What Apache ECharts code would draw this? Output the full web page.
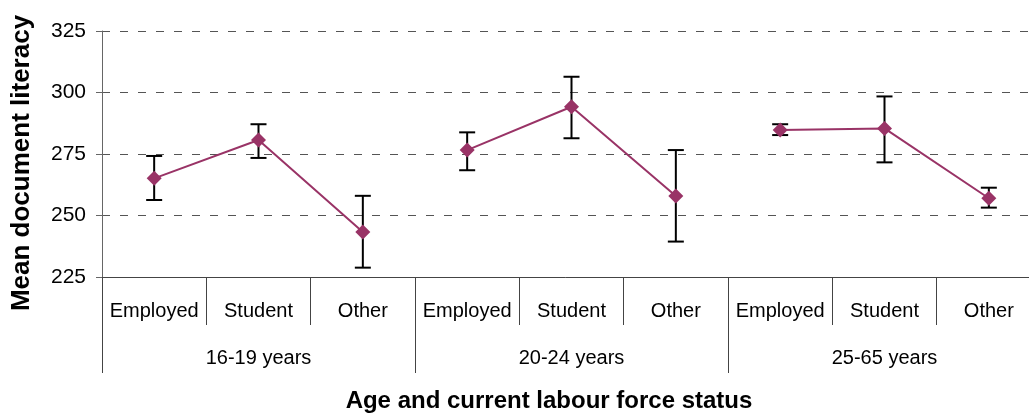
<!DOCTYPE html>
<html>
<head>
<meta charset="utf-8">
<title>Mean document literacy</title>
<script src="https://cdn.jsdelivr.net/npm/echarts@6/dist/echarts.min.js"></script>
<style>
  html, body { margin: 0; padding: 0; background: #fff; }
  #chart { width: 1029px; height: 414px; }
</style>
</head>
<body>
<div id="chart"></div>
<script>
// sub-categories (labour force status) and age groups
var statuses = ["Employed", "Student", "Other", "Employed", "Student", "Other", "Employed", "Student", "Other"];
var ageGroups = ["16-19 years", "20-24 years", "25-65 years"];
// mean scores and the ends of the error bars
var means = [265.1, 280.7, 243.3, 276.6, 294.2, 257.9, 284.8, 285.4, 257.0];
var upper = [274.2, 287.1, 258.0, 283.8, 306.4, 276.6, 287.1, 298.4, 261.3];
var lower = [256.3, 273.4, 228.8, 268.4, 281.4, 239.4, 282.7, 271.6, 253.2];
var yTicks = [225, 250, 275, 300, 325];

var fontFamily = "'Liberation Sans', Arial, sans-serif";
var plum = "#993366";

var chartDom = echarts.init(document.getElementById("chart"));

// one line per age group so the groups are not joined
var lineSeries = ageGroups.map(function (g, gi) {
  return {
    name: g,
    type: "line",
    z: 3,
    symbol: "diamond",
    symbolSize: [15, 15],
    lineStyle: { color: plum, width: 2 },
    itemStyle: { color: plum },
    data: means.map(function (v, i) {
      return Math.floor(i / 3) === gi ? v : "-";
    }),
  };
});

var errorSeries = {
  type: "custom",
  z: 2,
  data: means.map(function (v, i) {
    return [i, lower[i], upper[i]];
  }),
  renderItem: function (params, api) {
    var lo = api.coord([api.value(0), api.value(1)]);
    var hi = api.coord([api.value(0), api.value(2)]);
    var w = 8;
    var style = { stroke: "#000", lineWidth: 2 };
    return {
      type: "group",
      children: [
        { type: "line", shape: { x1: lo[0], y1: lo[1], x2: hi[0], y2: hi[1] }, style: style },
        { type: "line", shape: { x1: lo[0] - w, y1: lo[1], x2: lo[0] + w, y2: lo[1] }, style: style },
        { type: "line", shape: { x1: hi[0] - w, y1: hi[1], x2: hi[0] + w, y2: hi[1] }, style: style },
      ],
    };
  },
};

var option = {
  animation: false,
  textStyle: { fontFamily: fontFamily },
  // the plot runs slightly past the right edge of the picture
  grid: { left: 102, top: 31, width: 939, height: 246, containLabel: false, outerBoundsMode: "none" },
  xAxis: [
    {
      type: "category",
      data: statuses,
      boundaryGap: true,
      axisLine: { show: true, lineStyle: { color: "#444", width: 1 } },
      axisTick: { show: true, interval: 0, inside: false, length: 48, lineStyle: { color: "#444", width: 1 } },
      axisLabel: { interval: 0, margin: 24, color: "#000", fontSize: 20, fontFamily: fontFamily },
      splitLine: { show: false },
    },
    {
      type: "category",
      data: ageGroups,
      position: "bottom",
      boundaryGap: true,
      axisLine: { show: false },
      axisTick: { show: true, interval: 0, inside: false, length: 96, lineStyle: { color: "#444", width: 1 } },
      axisLabel: { interval: 0, margin: 71, color: "#000", fontSize: 20, fontFamily: fontFamily },
      splitLine: { show: false },
    },
  ],
  yAxis: {
    type: "value",
    min: yTicks[0],
    max: yTicks[yTicks.length - 1],
    interval: 25,
    axisLine: { show: true, lineStyle: { color: "#666" } },
    axisTick: { show: true, inside: false, length: 6, lineStyle: { color: "#666", width: 1 } },
    axisLabel: { margin: 16, color: "#000", fontSize: 21, fontFamily: fontFamily },
    splitLine: { show: true, lineStyle: { color: "#555", type: [8, 10], width: 1 } },
  },
  graphic: [
    {
      type: "text",
      x: 22,
      y: 163,
      rotation: Math.PI / 2,
      style: {
        text: "Mean document literacy",
        fontSize: 26,
        fontWeight: "bold",
        fontFamily: fontFamily,
        fill: "#000",
        align: "center",
        verticalAlign: "middle",
      },
    },
    {
      type: "text",
      x: 549,
      y: 401,
      style: {
        text: "Age and current labour force status",
        fontSize: 24,
        fontWeight: "bold",
        fontFamily: fontFamily,
        fill: "#000",
        align: "center",
        verticalAlign: "middle",
      },
    },
  ],
  series: [errorSeries].concat(lineSeries),
};

chartDom.setOption(option);
</script>
</body>
</html>
